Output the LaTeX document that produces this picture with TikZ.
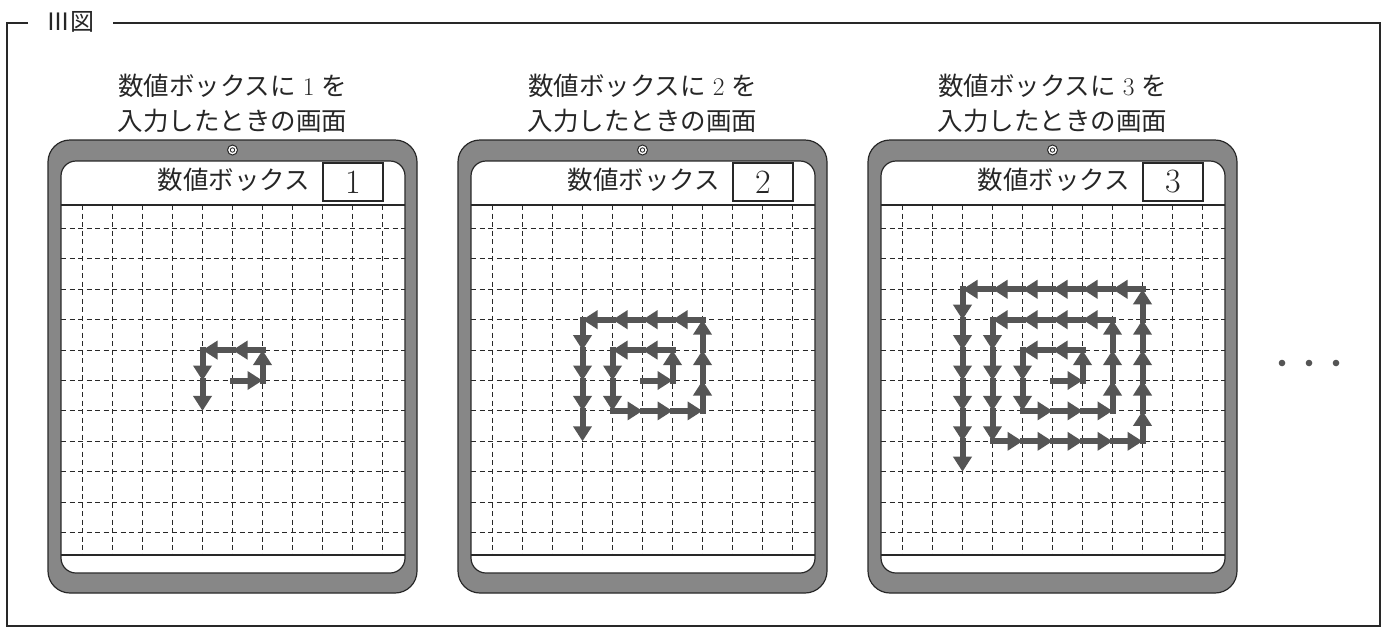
\documentclass[tikz,border=0pt]{standalone}
\usepackage{fontspec}
\newfontfamily\jp{Noto Sans CJK JP}
\usetikzlibrary{arrows.meta}
\definecolor{framegray}{RGB}{135,135,135}
\definecolor{arrgray}{RGB}{85,85,85}
\definecolor{edgec}{RGB}{40,40,40}
\begin{document}
\begin{tikzpicture}[x=1pt,y=-1pt,
  frameline/.style={draw=edgec,line width=1.2pt},
  tabframe/.style={draw=edgec,line width=1.2pt,fill=framegray,rounded corners=22pt},
  screenbox/.style={draw=edgec,line width=1.2pt,fill=white,rounded corners=15pt},
  gridline/.style={draw=edgec,line width=1pt,dash pattern=on 5pt off 3.5pt},
  solidline/.style={draw=edgec,line width=1.4pt},
  jptext/.style={font=\jp\fontsize{25.5}{30}\selectfont,inner sep=0pt,text=black!85},
  numtext/.style={font=\fontsize{34}{38}\selectfont,inner sep=0pt,text=black!85},
  numbox/.style={draw=edgec,line width=1.2pt,minimum width=60pt,minimum height=38pt,inner sep=0pt},
  arr/.style={draw=arrgray,line width=6pt,line cap=rect,-{Triangle[length=15pt,width=18pt]}},
  dotc/.style={fill=arrgray}
]
\useasboundingbox (0,0) rectangle (1388,627);
\fill[white] (0,0) rectangle (1388,627);
% outer frame
\coordinate (fa) at (28,23);
\coordinate (fb) at (7,23);
\coordinate (fc) at (7,626);
\coordinate (fd) at (1380,626);
\coordinate (fe) at (1380,23);
\coordinate (ff) at (113,23);
\draw[frameline] (fa) -- (fb) -- (fc) -- (fd) -- (fe) -- (ff);
\node[font=\jp\fontsize{24}{28}\selectfont,inner sep=0pt,text=black!85] (title) at (70,22) {Ⅲ図};
% panels
\foreach \p/\n in {0/1,1/2,2/3} {
\begin{scope}[xshift=\p*410pt]
  \draw[tabframe] (48,140) rectangle (417,593);
  \draw[screenbox] (61,161) rectangle (405,573);
  \draw[edgec,line width=1pt,fill=white] (232.5,150) circle (5);
  \draw[edgec,line width=0.9pt] (232.5,150) circle (2.2);
  \foreach \k in {0,...,10} {
    \draw[gridline] ({82.5+30*\k},205) -- ({82.5+30*\k},555);
    \draw[gridline] (61,{228.5+30.4*\k}) -- (405,{228.5+30.4*\k});
  }
  \draw[solidline] (61,205) -- (405,205);
  \draw[solidline] (61,555) -- (405,555);
  \node[jptext,anchor=east] (hdr\n) at (310,180) {数値ボックス};
  \node[numbox] (box\n) at (353,182) {};
  \node[numtext] (num\n) at (box\n.center) {\n};
  \node[jptext] (ta\n) at (232.5,86) {数値ボックスに\makebox[1em]{\rmfamily\n}を};
  \node[jptext] (tb\n) at (232.5,121) {入力したときの画面};
  \pgfmathtruncatemacro\lim{4*\n}
  \begin{scope}[shift={(232.5,380.5)},x=30pt,y=-30.4pt]
    \foreach \a/\b/\c/\d/\i in {0/0/1/0/1, 1/0/1/-1/2, 1/-1/-1/-1/3, -1/-1/-1/1/4,
        -1/1/2/1/5, 2/1/2/-2/6, 2/-2/-2/-2/7, -2/-2/-2/2/8,
        -2/2/3/2/9, 3/2/3/-3/10, 3/-3/-3/-3/11, -3/-3/-3/3/12} {
      \ifnum\i>\lim\relax\else
        \pgfmathtruncatemacro\L{abs(\c-\a)+abs(\d-\b)}
        \pgfmathsetmacro\ux{(\c-\a)/\L}
        \pgfmathsetmacro\uy{(\d-\b)/\L}
        \foreach \k in {1,...,\L} {
          \draw[arr] ({\a+(\k-1)*\ux},{\b+(\k-1)*\uy}) -- ({\a+\k*\ux},{\b+\k*\uy});
        }
      \fi
    }
  \end{scope}
\end{scope}
}
\fill[dotc] (1282,363) circle (3.3);
\fill[dotc] (1309,363) circle (3.3);
\fill[dotc] (1336,363) circle (3.3);
\end{tikzpicture}
\end{document}
